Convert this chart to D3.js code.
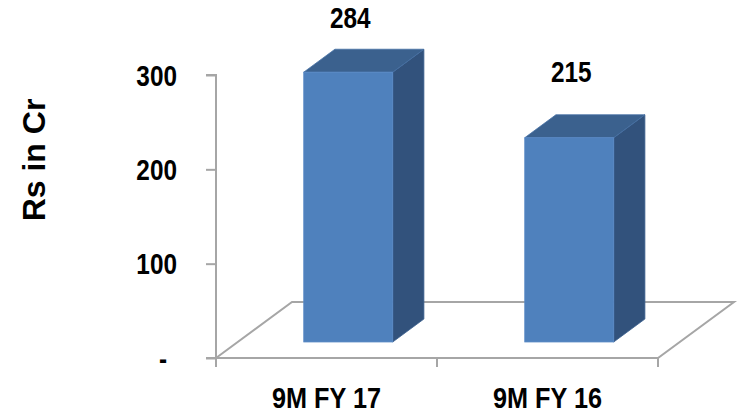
<!DOCTYPE html>
<html><head><meta charset="utf-8">
<script src="https://cdn.jsdelivr.net/npm/d3@7"></script>
<style>body{margin:0;background:#fff}svg{display:block}</style>
</head><body><svg id="c" width="740" height="419"></svg>
<script>
const categories = ["9M FY 17", "9M FY 16"];
const values = [284, 215];
const yTicks = [0, 100, 200, 300];
const yTickLabels = ["-", "100", "200", "300"];
const yTitle = "Rs in Cr";

const svg = d3.select("#c");
const FONT = "'Liberation Sans',Arial,sans-serif";
const axisColor = "#A6A6A6";
const SQ = 0.84; // horizontal condensing to mimic a narrow bold face

// plot geometry
const x0 = 216, x1 = 658, yBase = 358, yTop = 75;
const floorDx = 76, floorDy = -56;
const frontDepth = 0.286, backDepth = 0.696;

const x = d3.scaleBand().domain(categories).range([x0, x1]);
const y = d3.scaleLinear().domain([0, 300]).range([yBase, yTop]);
const barBase = yBase + frontDepth * floorDy;
const yBar = d3.scaleLinear().domain([0, 300]).range([barBase, barBase - 285]);
const yLabel = d3.scaleLinear().domain([0, 300]).range([250.6, 15.8]);
const barW = 89;
const bdx = (backDepth - frontDepth) * floorDx, bdy = (backDepth - frontDepth) * floorDy;

function narrowText(sel, tx, ty, anchor, size, sq) {
  return sel.attr("transform", (d, i) => `translate(${tx(d, i)},${ty(d, i)}) scale(${sq},1)`)
    .attr("text-anchor", anchor)
    .attr("font-family", FONT).attr("font-weight", "bold").attr("font-size", size)
    .attr("fill", "#000");
}

// floor
svg.append("path")
  .attr("d", `M${x0},${yBase}L${x0 + floorDx},${yBase + floorDy}L${x1 + floorDx},${yBase + floorDy}L${x1},${yBase}Z`)
  .attr("fill", "none").attr("stroke", axisColor).attr("stroke-width", 2);

// y axis
const yAxis = d3.axisLeft(y).tickValues(yTicks).tickSize(10).tickFormat(() => "");
const ga = svg.append("g").attr("transform", `translate(${x0},0)`).call(yAxis);
ga.selectAll("path,line").attr("stroke", axisColor).attr("stroke-width", 2);
ga.select(".domain").attr("d", `M-10,${yTop}H0V${yBase}H-10`);

// x axis ticks
svg.append("g").selectAll("line").data([x0, ...categories.slice(1).map(c => x(c)), x1]).join("line")
  .attr("x1", d => d).attr("x2", d => d).attr("y1", yBase).attr("y2", yBase + 9)
  .attr("stroke", axisColor).attr("stroke-width", 2);

// y tick labels
narrowText(svg.append("g").selectAll("text").data(yTicks).join("text"),
  d => d === 0 ? 167 : 177, d => y(d) + 10.5, "end", 29, SQ)
  .text((d, i) => yTickLabels[i]);

// bars
const bars = svg.append("g").selectAll("g").data(values).join("g");
bars.each(function (v, i) {
  const g = d3.select(this);
  const fx = x(categories[i]) + x.bandwidth() / 2 + frontDepth * floorDx - barW / 2;
  const top = yBar(v), bot = yBar(0);
  g.append("path").attr("d",
    `M${fx + barW},${top}L${fx + barW + bdx},${top + bdy}L${fx + barW + bdx},${bot + bdy}L${fx + barW},${bot}Z`)
    .attr("fill", "#32527C").attr("stroke", "#3A5F8E").attr("stroke-width", 0.8);
  g.append("path").attr("d",
    `M${fx},${top}L${fx + bdx},${top + bdy}L${fx + barW + bdx},${top + bdy}L${fx + barW},${top}Z`)
    .attr("fill", "#3B618E").attr("stroke", "#4570A4").attr("stroke-width", 0.8);
  g.append("rect").attr("x", fx).attr("y", top).attr("width", barW).attr("height", bot - top)
    .attr("fill", "#4F81BD").attr("stroke", "#5A8AC6").attr("stroke-width", 0.8);
  narrowText(g.append("text").datum(v), () => fx + barW / 2 + 2, d => yLabel(d), "middle", 29, SQ)
    .text(v);
});

// category labels
narrowText(svg.append("g").selectAll("text").data(categories).join("text"),
  d => x(d) + x.bandwidth() / 2, () => 408, "middle", 29, 0.87)
  .text(d => d);

// y title
svg.append("text")
  .attr("transform", "translate(45,160) rotate(-90)")
  .attr("text-anchor", "middle")
  .attr("font-family", FONT).attr("font-weight", "bold").attr("font-size", 32)
  .text(yTitle);
</script></body></html>
